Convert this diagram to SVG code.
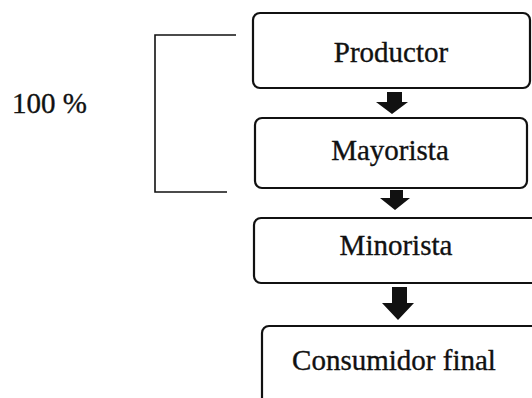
<svg xmlns="http://www.w3.org/2000/svg" width="532" height="398" viewBox="0 0 532 398">
<style>
.box{fill:#fff;stroke:#111;stroke-width:2.2}
.lbl{font-family:"Liberation Serif","Times New Roman",serif;font-size:29px;fill:#111;stroke:#111;stroke-width:0.35;text-anchor:middle}
.arr{fill:#111}
.br{fill:none;stroke:#111;stroke-width:1.6}
</style>
<rect width="532" height="398" fill="#fff"/>
<g id="bracket">
<path class="br" d="M236,35 H155 V192 H227"/>
<text class="lbl" x="12" y="113" style="text-anchor:start">100 %</text>
</g>
<g id="productor">
<rect class="box" x="253" y="13" width="277" height="75" rx="7"/>
<text class="lbl" x="391" y="62">Productor</text>
</g>
<g id="mayorista">
<rect class="box" x="255" y="118" width="272" height="70" rx="7"/>
<text class="lbl" x="390" y="160">Mayorista</text>
</g>
<g id="minorista">
<rect class="box" x="254" y="218" width="290" height="65" rx="7"/>
<text class="lbl" x="396" y="255">Minorista</text>
</g>
<g id="consumidor">
<rect class="box" x="262" y="326" width="290" height="90" rx="7"/>
<text class="lbl" x="394" y="370">Consumidor final</text>
</g>
<g id="connectors">
<polygon class="arr" points="387,92 402,92 402,102 408,102 392,114 376,102 387,102"/>
<polygon class="arr" points="390,190 403,190 403,198 410,198 395,210 380,198 390,198"/>
<polygon class="arr" points="392,287 407,287 407,303 414,303 398,320 382,303 392,303"/>
</g>
</svg>
